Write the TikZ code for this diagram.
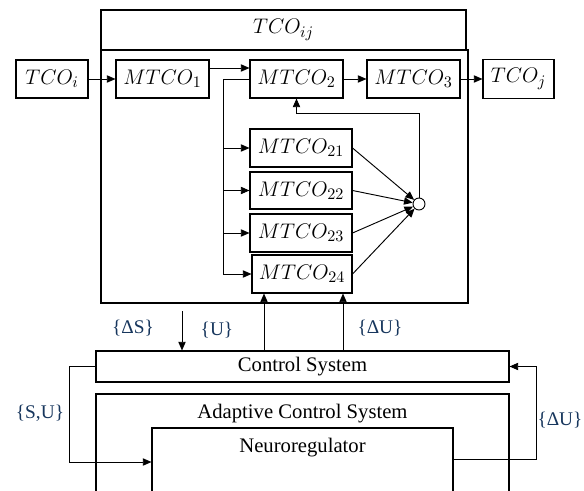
\documentclass[tikz,border=0pt]{standalone}
\usepackage{graphicx}
\usepackage[no-math]{fontspec}
\setmainfont{Liberation Serif}
\usetikzlibrary{arrows.meta,calc}

\definecolor{lblcol}{RGB}{23,54,93}
\newcommand{\mth}[1]{\scalebox{1.1}{$#1$}}

\tikzset{
  blk/.style={draw, line width=0.8pt, inner sep=0pt, font=\fontsize{15.5}{18}\selectfont},
  sz/.style 2 args={minimum width=#1*0.75pt, minimum height=#2*0.75pt},
  lnk/.style={line width=0.7pt, -{Triangle[length=6.5pt,width=5.5pt]}},
  lbl/.style={inner sep=0pt, text=lblcol, font=\fontsize{14.5}{17}\selectfont},
  inlbl/.style={anchor=north, inner sep=0pt, yshift=-7.5pt, font=\fontsize{15.5}{18}\selectfont},
}

\begin{document}
\begin{tikzpicture}[x=0.75pt,y=0.75pt,yscale=-1,xscale=1]
	\useasboundingbox (0,0) rectangle (584,491);
	\clip (0,0) rectangle (584,491);
	
	%Frame of TCO_ij
	\node [blk, sz={365}{40}] (tcoij) at (283.5,30) {\mth{TCO_{ij}}};
	\node [blk, sz={367}{253}] (frame) at (284.5,176.5) {};
	
	%Top chain
	\node [blk, sz={72}{38}] (tcoi) at (52,79) {\mth{TCO_{i}}};
	\node [blk, sz={93}{38}] (m1) at (162.5,79) {\mth{MTCO_{1}}};
	\node [blk, sz={93}{38}] (m2) at (296.5,79) {\mth{MTCO_{2}}};
	\node [blk, sz={93}{38}] (m3) at (413.5,79) {\mth{MTCO_{3}}};
	\node [blk, sz={71}{39}] (tcoj) at (518.5,79) {\mth{TCO_{j}}};
	
	%Parallel blocks
	\node [blk, sz={102}{38}] (m21) at (301,148) {\mth{MTCO_{21}}};
	\node [blk, sz={102}{37}] (m22) at (301,190.5) {\mth{MTCO_{22}}};
	\node [blk, sz={102}{38}] (m23) at (301,233) {\mth{MTCO_{23}}};
	\node [blk, sz={100}{38}] (m24) at (302,274) {\mth{MTCO_{24}}};
	\node [draw, line width=0.7pt, circle, minimum size=9pt, inner sep=0pt] (sum) at (419,204) {};
	
	%Control part
	\node [blk, sz={413}{31}] (ctrl) at (302.5,366.5) {\raisebox{-3pt}{Control System}};
	\node [blk, sz={413}{126}, label={[inlbl]north:Adaptive Control System}] (acs) at (302.5,457) {};
	\node [blk, sz={301}{92}, label={[inlbl]north:Neuroregulator}] (neuro) at (302.5,474) {};
	
	\coordinate (bus) at (223,79);
	\coordinate (fb) at (419,113);
	\coordinate (u1) at (264,330);
	\coordinate (u2) at (343,330);
	\coordinate (ds) at (182,311);
	\coordinate (sl) at (69,462);
	\coordinate (du) at (536,459);
	
	%Connectors
	\draw [lnk] (tcoi) -- (m1);
	\draw [lnk] ($(m1.east)+(0,-11)$) -- ($(m2.west)+(0,-11)$);
	\draw [lnk] (m2) -- (m3);
	\draw [lnk] (m3) -- (tcoj);
	\draw [lnk] (m2.west) -- (bus) |- (m24.west);
	\foreach \k in {21,22,23}
		\draw [lnk] (bus |- m\k.west) -- (m\k.west);
	\foreach \k in {21,...,24}
		\draw [lnk] (m\k.east) -- (sum);
	\draw [lnk] (sum.north) -- (fb) -| (m2.south);
	
	\draw [lnk] (ds) -- (ds |- ctrl.north);
	\draw [lnk] (u1 |- ctrl.north) -- (u1 |- m24.south);
	\draw [lnk] (u2 |- ctrl.north) -- (u2 |- m24.south);
	\draw [lnk] (ctrl.west) -| (sl) -- (sl -| neuro.west);
	\draw [lnk] (du -| neuro.east) -- (du) |- (ctrl.east);
	
	% Text Node
	\node [lbl] (lds) at (133,328) {\{ΔS\}};
	\node [lbl] (lu) at (217,330) {\{U\}};
	\node [lbl] (ldu) at (380,328) {\{ΔU\}};
	\node [lbl] (lsu) at (40,413) {\{S,U\}};
	\node [lbl] (ldu2) at (560,420) {\{ΔU\}};
\end{tikzpicture}
\end{document}
